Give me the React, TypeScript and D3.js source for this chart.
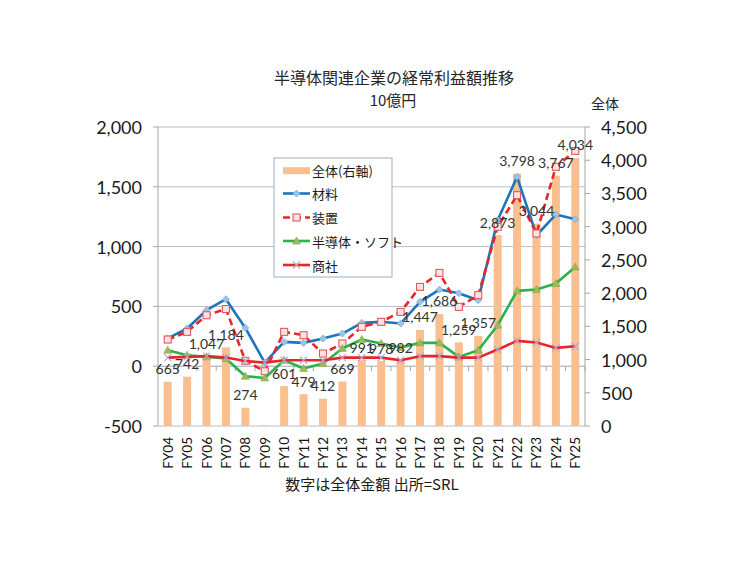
import React from "react";
import * as d3 from "d3";

const categories = ["FY04","FY05","FY06","FY07","FY08","FY09","FY10","FY11","FY12","FY13","FY14","FY15","FY16","FY17","FY18","FY19","FY20","FY21","FY22","FY23","FY24","FY25"];
const total = [665,742,1047,1184,274,8,601,479,412,669,991,978,982,1447,1686,1259,1357,2873,3798,3044,3767,4034];
const materials = [232,315,468,560,320,30,203,195,231,273,362,371,357,538,641,610,552,1221,1583,1095,1268,1229];
const equipment = [223,287,426,478,45,-42,287,259,106,190,329,371,454,663,780,496,594,1165,1430,1110,1667,1800];
const semisoft = [134,92,78,64,-84,-98,50,-19,22,148,223,190,156,195,195,78,134,343,630,641,691,830];
const trading = [72,78,84,72,44,30,50,50,50,72,72,72,50,84,84,72,72,139,212,198,153,167];
const leftTicks = [-500,0,500,1000,1500,2000];
const rightTicks = [0,500,1000,1500,2000,2500,3000,3500,4000,4500];
const legendLabels = ["全体(右軸)","材料","装置","半導体・ソフト","商社"];

const JP = "'Noto Sans CJK JP', sans-serif";
const NUM = "Lato, 'Noto Sans', sans-serif";

export default function App() {
  const L = 158, R = 585, T = 127, B = 426;
  const step = (R - L) / categories.length;
  const cx = (c: string) => L + (categories.indexOf(c) + 0.5) * step;
  const yL = d3.scaleLinear().domain([-500, 2000]).range([B, T]);
  const yR = d3.scaleLinear().domain([0, 4500]).range([B, T]);
  const f = d3.format(",");
  const fmt = (v: number) => f(v).replace("\u2212", "-");
  const barW = 8;

  const mk = (vals: number[]) =>
    d3.line<number>().x((_, i) => cx(categories[i])).y((v) => yL(v))(vals) || "";

  const blue = "#1F74BC";
  const red = "#E8262A";
  const green = "#2BB24C";
  const peach = "#F9BF8F";
  const grid = "#B8BFCB";
  const axis = "#A6A6A6";

  const diamond = (px: number, py: number, k: string) => (
    <path key={k} d={`M${px},${py - 3.5}L${px + 3.5},${py}L${px},${py + 3.5}L${px - 3.5},${py}Z`} fill="#9DC3E6" stroke="#7FAEDB" strokeWidth={0.8} />
  );
  const square = (px: number, py: number, k: string) => (
    <rect key={k} x={px - 3.5} y={py - 3.5} width={7} height={7} fill="#FBE3E3" stroke="#E05A5A" strokeWidth={1.1} />
  );
  const tri = (px: number, py: number, k: string) => (
    <path key={k} d={`M${px},${py - 4}L${px + 4},${py + 3}L${px - 4},${py + 3}Z`} fill="#9BBB59" stroke="#8AAA48" strokeWidth={0.6} />
  );
  const cross = (px: number, py: number, k: string) => (
    <path key={k} d={`M${px - 3.5},${py - 3.5}L${px + 3.5},${py + 3.5}M${px + 3.5},${py - 3.5}L${px - 3.5},${py + 3.5}`} stroke="#B7A6CF" strokeWidth={1.2} />
  );

  const series = [
    { vals: materials, color: blue, dash: undefined as string | undefined, marker: diamond },
    { vals: equipment, color: red, dash: "7,4", marker: square },
    { vals: semisoft, color: green, dash: undefined, marker: tri },
    { vals: trading, color: red, dash: undefined, marker: cross },
  ];

  const legendRows = [170.7, 193.5, 217.5, 241, 265];
  const lgX = 274, lgY = 158, lgW = 118, lgH = 119;

  return (
    <svg width={755} height={566} style={{ position: "absolute", left: 0, top: 0, background: "#fff" }}>
      <text x={394} y={77} textAnchor="middle" dominantBaseline="central" fontFamily={JP} fontSize={16} fill="#262626">半導体関連企業の経常利益額推移</text>
      <text x={393} y={99.5} textAnchor="middle" dominantBaseline="central" fontFamily={JP} fontSize={15} fill="#262626">10億円</text>
      <text x={605} y={103} textAnchor="middle" dominantBaseline="central" fontFamily={JP} fontSize={14} fill="#262626">全体</text>

      {leftTicks.map((t) => (
        <line key={"g" + t} x1={L} x2={R} y1={yL(t)} y2={yL(t)} stroke={t === 0 ? axis : grid} strokeWidth={1} />
      ))}

      {categories.map((c, i) => (
        <rect key={"b" + c} x={cx(c) - barW / 2} y={yR(Math.max(total[i], 0))} width={barW} height={yR(0) - yR(Math.max(total[i], 0))} fill={peach} />
      ))}

      <line x1={L} x2={L} y1={T} y2={B} stroke={axis} />
      <line x1={R} x2={R} y1={T} y2={B} stroke={axis} />
      {leftTicks.map((t) => (
        <line key={"lt" + t} x1={L - 5} x2={L} y1={yL(t)} y2={yL(t)} stroke={axis} />
      ))}
      {rightTicks.map((t) => (
        <line key={"rt" + t} x1={R} x2={R + 5} y1={yR(t)} y2={yR(t)} stroke={axis} />
      ))}
      {d3.range(categories.length + 1).map((i) => (
        <line key={"xt" + i} x1={L + i * step} x2={L + i * step} y1={yL(0)} y2={yL(0) + 5} stroke={axis} />
      ))}

      {leftTicks.map((t) => (
        <text key={"ll" + t} x={142} y={yL(t)} textAnchor="end" dominantBaseline="central" fontFamily={NUM} fontSize={18} fill="#1a1a1a">{fmt(t)}</text>
      ))}
      {rightTicks.map((t) => (
        <text key={"rl" + t} x={601} y={yR(t)} textAnchor="start" dominantBaseline="central" fontFamily={NUM} fontSize={18} fill="#1a1a1a">{fmt(t)}</text>
      ))}
      {categories.map((c) => (
        <text key={"xl" + c} transform={`translate(${cx(c)},437) rotate(-90)`} textAnchor="end" dominantBaseline="central" fontFamily={NUM} fontSize={13.5} fill="#111">{c}</text>
      ))}

      {series.map((s, si) => (
        <g key={"s" + si}>
          <path d={mk(s.vals)} fill="none" stroke={s.color} strokeWidth={2.6} strokeDasharray={s.dash} strokeLinejoin="round" />
          {s.vals.map((v, i) => s.marker(cx(categories[i]), yL(v), `m${si}-${i}`))}
        </g>
      ))}

      {categories.map((c, i) =>
        total[i] > 20 ? (
          <text key={"dl" + c} x={cx(c)} y={yR(total[i]) - 13} textAnchor="middle" dominantBaseline="central" fontFamily={NUM} fontSize={14} fill="#333">{fmt(total[i])}</text>
        ) : null
      )}

      <rect x={lgX} y={lgY} width={lgW} height={lgH} fill="#fff" stroke="#9AAFC4" strokeWidth={1} />
      {legendLabels.map((lab, i) => {
        const ly = legendRows[i];
        const x1 = 283, x2 = 310, mx = (x1 + x2) / 2;
        let sample: React.ReactNode;
        if (i === 0) sample = <rect x={x1} y={ly - 3.5} width={x2 - x1} height={7} fill={peach} />;
        else {
          const s = series[i - 1];
          sample = (
            <g>
              <line x1={x1} x2={x2} y1={ly} y2={ly} stroke={s.color} strokeWidth={2.6} strokeDasharray={s.dash} />
              {s.marker(mx, ly, "lm" + i)}
            </g>
          );
        }
        return (
          <g key={"lg" + i}>
            {sample}
            <text x={312} y={ly} dominantBaseline="central" fontFamily={JP} fontSize={13} fill="#1a1a1a">{lab}</text>
          </g>
        );
      })}

      <text x={372} y={483} textAnchor="middle" dominantBaseline="central" fontFamily={JP} fontSize={15} fill="#1a1a1a">数字は全体金額 出所=SRL</text>
    </svg>
  );
}
